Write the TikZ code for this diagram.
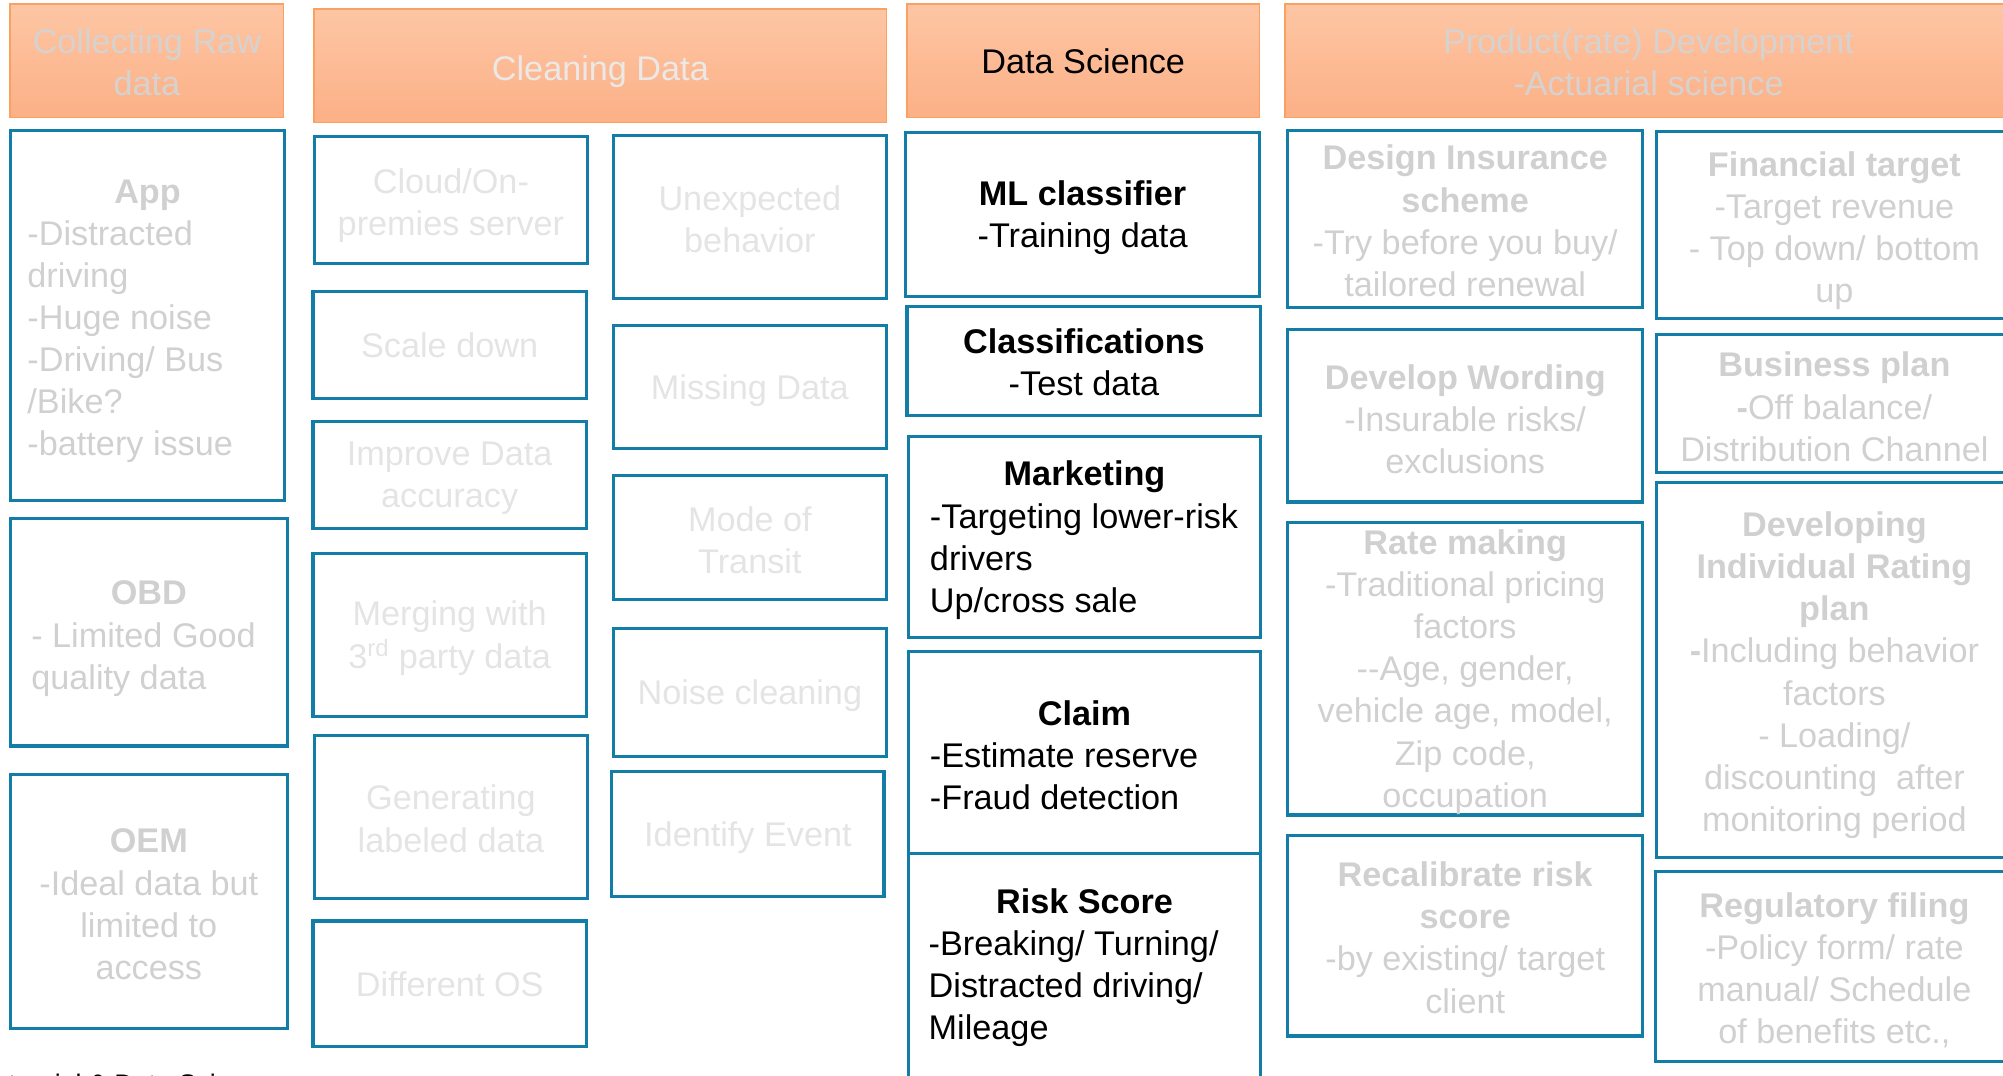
\documentclass[tikz,border=0pt]{standalone}
\usepackage{fontspec}
\setmainfont{Liberation Sans}
\usetikzlibrary{fit}
\definecolor{bblue}{RGB}{18,126,168}
\definecolor{htop}{RGB}{253,198,164}
\definecolor{hbot}{RGB}{252,176,134}
\definecolor{hline}{RGB}{250,160,96}
\definecolor{gtext}{RGB}{208,208,208}
\definecolor{ltext}{RGB}{228,228,228}
\definecolor{htext}{RGB}{214,210,208}
\definecolor{hltext}{RGB}{236,232,230}
\begin{document}
\begin{tikzpicture}[x=1pt,y=-1pt,
 box/.style={draw=bblue,line width=2.4pt,inner sep=0pt},
 hdr/.style={draw=hline,line width=1.2pt,inner sep=0pt,top color=htop,bottom color=hbot},
 tx/.style={font=\fontsize{26.8}{33}\selectfont,align=center,inner sep=0pt,yshift=-2.5pt},
 gt/.style={tx,text=gtext}, lt/.style={tx,text=ltext}, bt/.style={tx,text=black},
 ht/.style={tx,text=htext}, hlt/.style={tx,text=hltext}]
\useasboundingbox (0,0) rectangle (1568,842);

% headers
\node[hdr,fit={(8,3) (222,92)}] (hcol) {};
\node[hdr,fit={(246,7) (694,96)}] (hclean) {};
\node[hdr,fit={(710,3) (986,92)}] (hds) {};
\node[hdr,fit={(1006,3) (1575,92)}] (hprod) {};
\node[ht,yshift=1.5pt] (hcolT) at (hcol.center) {Collecting Raw\\data};
\node[hlt,yshift=-2pt] (hcleanT) at (hclean.center) {Cleaning Data};
\node[bt,yshift=2pt] (hdsT) at (hds.center) {Data Science};
\node[ht,yshift=1.5pt] (hprodT) at (hprod.center) {Product(rate) Development\\-Actuarial science};

% column 1
\node[box,fit={(8,102) (223,392)}] (app) {};
\node[box,fit={(8,406) (225,584)}] (obd) {};
\node[box,fit={(8,606) (225,805)}] (oem) {};
\node[gt,align=left,yshift=-2pt] (appT) at (app.center) {\makebox[188pt]{\bfseries App}\\-Distracted\\driving\\-Huge noise\\-Driving/ Bus\\/Bike?\\-battery issue};
\node[gt,align=left,yshift=-2.5pt] (obdT) at (obd.center) {\makebox[184pt]{\bfseries OBD}\\- Limited Good\\quality data};
\node[gt] (oemT) at (oem.center) {\textbf{OEM}\\-Ideal data but\\limited to\\access};

% column 2
\node[box,fit={(246,107) (460,206)}] (cloud) {};
\node[box,fit={(245,228) (459,312)}] (scale) {};
\node[box,fit={(245,330) (459,414)}] (improve) {};
\node[box,fit={(245,433) (459,561)}] (merge) {};
\node[box,fit={(246,576) (460,703)}] (gen) {};
\node[box,fit={(245,721) (459,819)}] (dos) {};
\node[lt,yshift=-2pt] (cloudT) at (cloud.center) {Cloud/On-\\premies server};
\node[lt,yshift=2pt] (scaleT) at (scale.center) {Scale down};
\node[lt] (improveT) at (improve.center) {Improve Data\\accuracy};
\node[lt] (mergeT) at (merge.center) {Merging with\\3\textsuperscript{rd} party data};
\node[lt,yshift=1pt] (genT) at (gen.center) {Generating\\labeled data};
\node[lt,yshift=2pt] (dosT) at (dos.center) {Different OS};

% column 3
\node[box,fit={(480,106) (694,234)}] (unexp) {};
\node[box,fit={(480,255) (694,351)}] (miss) {};
\node[box,fit={(480,372) (694,469)}] (mode) {};
\node[box,fit={(480,492) (694,592)}] (noise) {};
\node[box,fit={(479,604) (692,702)}] (ident) {};
\node[lt,yshift=1pt] (unexpT) at (unexp.center) {Unexpected\\behavior};
\node[lt] (missT) at (miss.center) {Missing Data};
\node[lt] (modeT) at (mode.center) {Mode of\\Transit};
\node[lt] (noiseT) at (noise.center) {Noise cleaning};
\node[lt] (identT) at (ident.center) {Identify Event};

% column 4 (data science)
\node[box,fit={(709,104) (986,232)}] (ml) {};
\node[box,fit={(710,240) (987,325)}] (cls) {};
\node[box,fit={(711,342) (987,499)}] (mkt) {};
\node[box,fit={(711,510) (987,668)}] (claim) {};
\node[box,fit={(711,668) (987,870)}] (risk) {};
\node[bt] (mlT) at (ml.center) {\textbf{ML classifier}\\-Training data};
\node[bt,yshift=1.5pt] (clsT) at (cls.center) {\textbf{Classifications}\\-Test data};
\node[bt,align=left] (mktT) at (mkt.center) {\makebox[242pt]{\bfseries Marketing}\\-Targeting lower-risk\\drivers\\Up/cross sale};
\node[bt,align=left] (claimT) at (claim.center) {\makebox[242pt]{\bfseries Claim}\\-Estimate reserve\\-Fraud detection};
\node[bt,align=left] (riskT) at (849,755) {\makebox[244pt]{\bfseries Risk Score}\\-Breaking/ Turning/\\Distracted driving/\\Mileage};

% column 5
\node[box,fit={(1008,102) (1286,241)}] (design) {};
\node[box,fit={(1008,258) (1286,393)}] (word) {};
\node[box,fit={(1008,409) (1286,638)}] (rate) {};
\node[box,fit={(1008,654) (1286,811)}] (recal) {};
\node[gt,yshift=1pt] (designT) at (design.center) {\textbf{Design Insurance}\\\textbf{scheme}\\-Try before you buy/\\tailored renewal};
\node[gt] (wordT) at (word.center) {\textbf{Develop Wording}\\-Insurable risks/\\exclusions};
\node[gt] (rateT) at (rate.center) {\textbf{Rate making}\\-Traditional pricing\\factors\\-{}-Age, gender,\\vehicle age, model,\\Zip code,\\occupation};
\node[gt,yshift=1pt] (recalT) at (recal.center) {\textbf{Recalibrate risk}\\\textbf{score}\\-by existing/ target\\client};

% column 6
\node[box,fit={(1297,103) (1580,249)}] (fin) {};
\node[box,fit={(1297,262) (1580,370)}] (bus) {};
\node[box,fit={(1297,378) (1580,671)}] (indiv) {};
\node[box,fit={(1296,682) (1580,831)}] (reg) {};
\node[gt] (finT) at (1436,178) {\textbf{Financial target}\\-Target revenue\\- Top down/ bottom\\up};
\node[gt] (busT) at (1436,316) {\textbf{Business plan}\\\textbf{-}Off balance/\\Distribution Channel};
\node[gt] (indivT) at (1436,526) {\textbf{Developing}\\\textbf{Individual Rating}\\\textbf{plan}\\\textbf{-}Including behavior\\factors\\- Loading/\\discounting\ \ after\\monitoring period};
\node[gt] (regT) at (1436,757) {\textbf{Regulatory filing}\\-Policy form/ rate\\manual/ Schedule\\of benefits etc.,};

% clipped footer text
\node[font=\fontsize{21}{25}\selectfont,anchor=base west,inner sep=0pt] (foot) at (-18,856) {Actuarial \& Data Science};
\end{tikzpicture}
\end{document}
